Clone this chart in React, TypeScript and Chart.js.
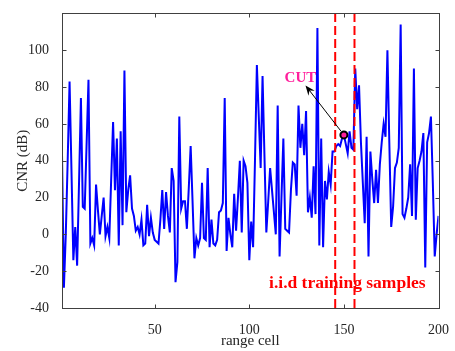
import React, { useEffect, useRef } from "react";
import { Chart, registerables } from "chart.js";

Chart.register(...registerables);

// ---- data ----
const rangeCells: number[] = Array.from({ length: 200 }, (_, i) => i + 1);
const cnrDb: number[] = [
  44, -29, 0, 40, 83, 35, -14, 4, -17, 28,
  74, 15, 14, 49, 84, -5, -2, -6, 27, 13,
  0, 10, 20, -1, 4, -2, 30, 61, 24, 52,
  -6, 56, 5, 89, 12, 24, 32, 14, 10, 2,
  4, 0, 8, -6, -5, 16, -1, 9, 1, -3,
  -4, -5, 8, 24, 3, 23, 10, 1, 36, 29,
  -26, -15, 64, 14, 18, 18, 3, 25, 48, 18,
  -13, -2, -6, -2, 28, -2, -3, 36, -7, 8,
  -5, -6, -3, 12, 13, 17, 74, -9, 9, 0,
  -7, 22, 2, 20, 40, 1, 40, 37, 28, -14,
  7, -7, 40, 92, 64, 36, 86, 43, 1, 18,
  36, 24, 12, 0, 70, -12, 20, 52, 3, 2,
  1, 24, 39, 38, 21, 70, 47, 60, 43, 67,
  12, 20, 9, 37, 11, 112, -6, 52, -7, 29,
  19, 34, 27, 45, 45, 48, 49, 48, 52, 54,
  49, 44, 56, 47, 46, 90, 68, 81, 50, 28,
  6, 53, -12, 45, 30, 17, 35, 17, 38, 50,
  60, 53, 100, 50, 4, 15, 36, 39, 47, 114,
  11, 9, 14, 20, 38, 10, 90, 8, 36, 40,
  45, 55, -18, 50, 55, 64, 28, -12, 0, 10,
];
const xTicks: number[] = [50, 100, 150, 200];
const yTicks: number[] = [-40, -20, 0, 20, 40, 60, 80, 100];
const xRange: number[] = [1, 200];
const yRange: number[] = [-40, 120];
const cutCell = 150;
const trainingBounds: number[] = [145.4, 155.6];
const cutLabel = "CUT";
const cutLabelAt = { x: 127, y: 84.6 };
const arrowTipAt = { x: 129.7, y: 80.9 };
const trainingLabel = "i.i.d training samples";
const trainingLabelAt = { x: 151.8, y: -26.8 };
const xTitle = "range cell";
const yTitle = "CNR (dB)";

const SERIF = '"Liberation Serif", "Times New Roman", serif';
const PINK = "#ff1f9c";
const AXIS = "#262626";

const matlabAxes = {
  id: "matlabAxes",
  afterDatasetsDraw(chart: any) {
    const { ctx, chartArea: a, scales } = chart;
    const x = scales.x;
    const y = scales.y;
    ctx.save();
    // box
    ctx.strokeStyle = "#404040";
    ctx.lineWidth = 1;
    const L = Math.round(a.left) + 0.5;
    const T = Math.round(a.top) + 0.5;
    const R = Math.round(a.right) + 0.5;
    const B = Math.round(a.bottom) + 0.5;
    ctx.strokeRect(L, T, R - L, B - T);
    const tl = 4;
    ctx.beginPath();
    xTicks.forEach((v) => {
      const px = Math.round(x.getPixelForValue(v)) + 0.5;
      ctx.moveTo(px, B);
      ctx.lineTo(px, B - tl);
      ctx.moveTo(px, T);
      ctx.lineTo(px, T + tl);
    });
    yTicks.forEach((v) => {
      const py = Math.round(y.getPixelForValue(v)) + 0.5;
      ctx.moveTo(L, py);
      ctx.lineTo(L + tl, py);
      ctx.moveTo(R, py);
      ctx.lineTo(R - tl, py);
    });
    ctx.stroke();

    // arrow from CUT marker to label
    const mx = x.getPixelForValue(cutCell);
    const my = y.getPixelForValue(cnrDb[cutCell - 1]);
    const tx = x.getPixelForValue(arrowTipAt.x);
    const ty = y.getPixelForValue(arrowTipAt.y);
    const dx = tx - mx;
    const dy = ty - my;
    const len = Math.hypot(dx, dy);
    const ux = dx / len;
    const uy = dy / len;
    const nx = -uy;
    const ny = ux;
    const sx = mx + ux * 5;
    const sy = my + uy * 5;
    const hl = 10;
    const hw = 4;
    ctx.strokeStyle = "#000";
    ctx.lineWidth = 1;
    ctx.beginPath();
    ctx.moveTo(sx, sy);
    ctx.lineTo(tx - ux * hl * 0.6, ty - uy * hl * 0.6);
    ctx.stroke();
    ctx.fillStyle = "#000";
    ctx.beginPath();
    ctx.moveTo(tx, ty);
    ctx.lineTo(tx - ux * hl + nx * hw, ty - uy * hl + ny * hw);
    ctx.lineTo(tx - ux * hl * 0.65, ty - uy * hl * 0.65);
    ctx.lineTo(tx - ux * hl - nx * hw, ty - uy * hl - ny * hw);
    ctx.closePath();
    ctx.fill();

    // labels
    ctx.textAlign = "center";
    ctx.textBaseline = "middle";
    ctx.font = `bold 15px ${SERIF}`;
    ctx.fillStyle = PINK;
    ctx.fillText(cutLabel, x.getPixelForValue(cutLabelAt.x), y.getPixelForValue(cutLabelAt.y));
    ctx.font = `bold 17.5px ${SERIF}`;
    ctx.fillStyle = "#ff0000";
    ctx.fillText(trainingLabel, x.getPixelForValue(trainingLabelAt.x), y.getPixelForValue(trainingLabelAt.y));
    ctx.restore();
  },
};

export default function App() {
  const canvasRef = useRef<HTMLCanvasElement | null>(null);

  useEffect(() => {
    const canvas = canvasRef.current;
    if (!canvas) return;
    const lineData = rangeCells.map((c, i) => ({ x: c, y: cnrDb[i] }));
    const chart = new Chart(canvas, {
      type: "line",
      data: {
        datasets: [
          {
            label: "CUT",
            data: [{ x: cutCell, y: cnrDb[cutCell - 1] }],
            showLine: false,
            pointRadius: 3.5,
            pointBackgroundColor: PINK,
            pointBorderColor: "#000",
            pointBorderWidth: 2,
            order: 0,
          },
          ...trainingBounds.map((b) => ({
            label: "bound",
            data: [
              { x: b, y: yRange[0] },
              { x: b, y: yRange[1] },
            ],
            borderColor: "#ff0000",
            borderWidth: 2,
            borderDash: [9, 4],
            pointRadius: 0,
            order: 1,
          })),
          {
            label: "CNR",
            data: lineData,
            borderColor: "#0000ff",
            borderWidth: 2,
            pointRadius: 0,
            tension: 0,
            order: 2,
          },
        ],
      } as any,
      options: {
        responsive: false,
        animation: false,
        devicePixelRatio: 1,
        layout: { padding: { top: 10, right: 12, left: 0, bottom: 0 } },
        plugins: { legend: { display: false }, tooltip: { enabled: false } },
        scales: {
          x: {
            type: "linear",
            min: xRange[0],
            max: xRange[1],
            afterBuildTicks: (s: any) => {
              s.ticks = xTicks.map((v) => ({ value: v }));
            },
            afterFit: (s: any) => {
              s.height = 43;
            },
            grid: { display: false },
            border: { display: false },
            ticks: {
              autoSkip: false,
              maxRotation: 0,
              padding: 6,
              color: AXIS,
              font: { family: SERIF, size: 14 },
            },
            title: {
              display: true,
              text: xTitle,
              color: AXIS,
              font: { family: SERIF, size: 15 },
              padding: { top: 0, bottom: 1 },
            },
          },
          y: {
            type: "linear",
            min: yRange[0],
            max: yRange[1],
            afterBuildTicks: (s: any) => {
              s.ticks = yTicks.map((v) => ({ value: v }));
            },
            afterFit: (s: any) => {
              s.width = 62;
            },
            grid: { display: false },
            border: { display: false },
            ticks: {
              autoSkip: false,
              padding: 5,
              color: AXIS,
              font: { family: SERIF, size: 14 },
            },
            title: {
              display: true,
              text: yTitle,
              color: AXIS,
              font: { family: SERIF, size: 15 },
              padding: { top: 14, bottom: 0 },
            },
          },
        },
      } as any,
      plugins: [matlabAxes],
    });
    return () => chart.destroy();
  }, []);

  return (
    <div style={{ position: "absolute", left: 0, top: 0, width: 455, height: 351, background: "#fff" }}>
      <canvas ref={canvasRef} width={455} height={351} style={{ display: "block" }} />
    </div>
  );
}
